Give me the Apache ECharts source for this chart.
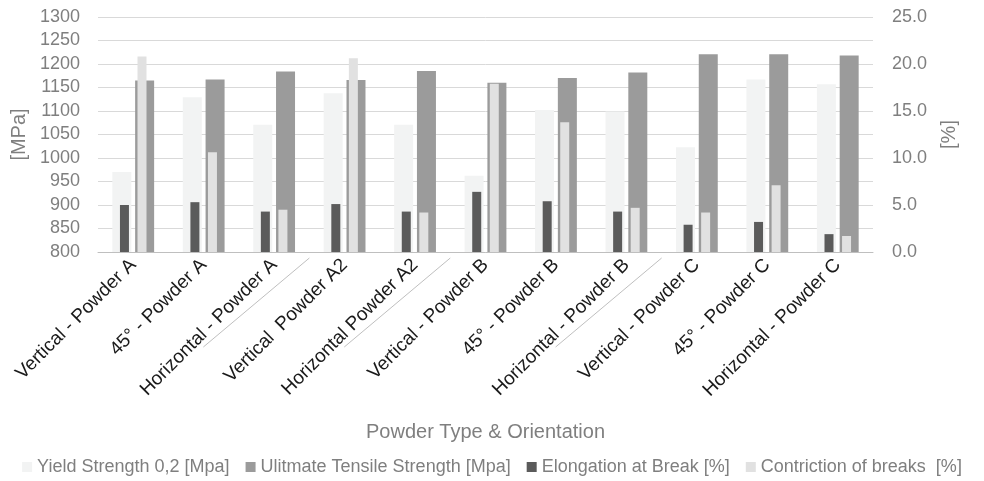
<!DOCTYPE html>
<html>
<head>
<meta charset="utf-8">
<script src="https://cdn.jsdelivr.net/npm/echarts@6/dist/echarts.min.js"></script>
<style>
  html, body { margin: 0; padding: 0; background: #ffffff; }
  #chart { width: 984px; height: 481px; }
</style>
</head>
<body>
<div id="chart"></div>
<script>
// Specimens: build orientation and powder batch
const categories = [
  'Vertical - Powder A', '45° - Powder A', 'Horizontal - Powder A',
  'Vertical  Powder A2', 'Horizontal Powder A2',
  'Vertical - Powder B', '45° - Powder B', 'Horizontal - Powder B',
  'Vertical - Powder C', '45° - Powder C', 'Horizontal - Powder C'
];
// Powder batch of each specimen (used for the group separators under the axis)
const powderGroups = ['A', 'A', 'A', 'A2', 'A2', 'B', 'B', 'B', 'C', 'C', 'C'];

// Strength values [MPa] (left axis)
const yieldStrength = [970, 1129, 1071, 1138, 1071, 962, 1102, 1099, 1023, 1167, 1157];
const tensileStrength = [1165, 1167, 1184, 1166, 1185, 1160, 1170, 1182, 1221, 1221, 1218];

// Ductility values [%] (right axis)
const elongation = [5.0, 5.3, 4.3, 5.1, 4.3, 6.4, 5.4, 4.3, 2.9, 3.2, 1.9];
const contriction = [20.8, 10.6, 4.5, 20.6, 4.2, 17.9, 13.8, 4.7, 4.2, 7.1, 1.7];

const seriesNames = [
  'Yield Strength 0,2 [Mpa]',
  'Ulitmate Tensile Strength [Mpa]',
  'Elongation at Break [%]',
  'Contriction of breaks  [%]'
];

const FONT = 'Liberation Sans';
const GREY_TEXT = '#7f7f7f';

const chart = echarts.init(document.getElementById('chart'), null, { renderer: 'canvas' });

const option = {
  animation: false,
  backgroundColor: '#ffffff',
  textStyle: { fontFamily: FONT },
  grid: { left: 98, right: 111, top: 17, bottom: 229, containLabel: false },
  legend: {
    bottom: 0,
    left: 'center',
    itemWidth: 10,
    itemHeight: 10,
    itemGap: 16,
    icon: 'rect',
    itemStyle: { borderWidth: 0 },
    textStyle: { fontFamily: FONT, fontSize: 18, color: GREY_TEXT },
    data: seriesNames
  },
  xAxis: [
    {
      type: 'category',
      data: categories,
      name: 'Powder Type & Orientation',
      nameLocation: 'middle',
      nameGap: 170,
      nameTextStyle: { fontFamily: FONT, fontSize: 20, color: GREY_TEXT },
      axisLine: { lineStyle: { color: '#bfbfbf', width: 1 } },
      axisTick: { show: false },
      axisLabel: {
        interval: 0,
        rotate: 45,
        margin: 10,
        fontFamily: FONT,
        fontSize: 19,
        color: '#1a1a1a'
      }
    },
    {
      type: 'category',
      data: categories,
      show: false
    }
  ],
  yAxis: [
    {
      type: 'value',
      min: 800,
      max: 1300,
      interval: 50,
      position: 'left',
      name: '[MPa]',
      nameLocation: 'middle',
      nameGap: 68,
      nameRotate: 90,
      nameTextStyle: { fontFamily: FONT, fontSize: 20, color: GREY_TEXT },
      axisLine: { show: false },
      axisTick: { show: false },
      axisLabel: {
        margin: 18,
        fontFamily: FONT,
        fontSize: 18,
        color: GREY_TEXT,
        formatter: v => String(v)
      },
      splitLine: { lineStyle: { color: '#d9d9d9', width: 1 } }
    },
    {
      type: 'value',
      min: 0,
      max: 25,
      interval: 5,
      position: 'right',
      name: '[%]',
      nameLocation: 'middle',
      nameGap: 66,
      nameRotate: 90,
      nameTextStyle: { fontFamily: FONT, fontSize: 20, color: GREY_TEXT },
      axisLine: { show: false },
      axisTick: { show: false },
      axisLabel: {
        margin: 19,
        fontFamily: FONT,
        fontSize: 18,
        color: GREY_TEXT,
        formatter: v => v.toFixed(1)
      },
      splitLine: { show: false }
    }
  ],
  series: [
    {
      name: seriesNames[0],
      type: 'bar',
      xAxisIndex: 0,
      yAxisIndex: 0,
      data: yieldStrength,
      barWidth: 19,
      barGap: '20%',
      itemStyle: { color: '#f2f3f3' }
    },
    {
      name: seriesNames[1],
      type: 'bar',
      xAxisIndex: 0,
      yAxisIndex: 0,
      data: tensileStrength,
      barWidth: 19,
      barGap: '20%',
      itemStyle: { color: '#9b9b9b' }
    },
    {
      name: seriesNames[2],
      type: 'bar',
      xAxisIndex: 1,
      yAxisIndex: 1,
      data: elongation,
      barWidth: 9,
      barGap: '95%',
      itemStyle: { color: '#5b5b5b' }
    },
    {
      name: seriesNames[3],
      type: 'bar',
      xAxisIndex: 1,
      yAxisIndex: 1,
      data: contriction,
      barWidth: 9,
      barGap: '95%',
      itemStyle: { color: '#e1e1e1' }
    }
  ]
};

chart.setOption(option);

// Thin slanted separators between powder batches, drawn under the axis labels
function drawSeparators() {
  const elements = [];
  const axisY = chart.convertToPixel({ yAxisIndex: 0 }, 800);
  for (let i = 0; i < powderGroups.length - 1; i++) {
    if (powderGroups[i] !== powderGroups[i + 1]) {
      const c0 = chart.convertToPixel({ xAxisIndex: 0 }, i);
      const c1 = chart.convertToPixel({ xAxisIndex: 0 }, i + 1);
      const bx = (c0 + c1) / 2;
      elements.push({
        type: 'line',
        silent: true,
        shape: { x1: bx, y1: axisY + 6, x2: bx - 106, y2: axisY + 95 },
        style: { stroke: '#bfbfbf', lineWidth: 1 }
      });
    }
  }
  chart.setOption({ graphic: elements });
}
drawSeparators();
</script>
</body>
</html>
